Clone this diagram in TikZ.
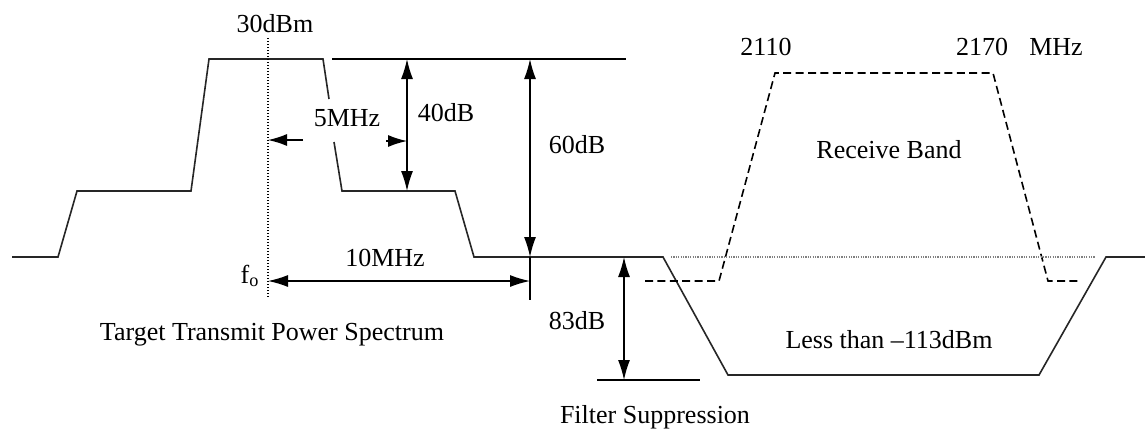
\documentclass[tikz,border=0pt]{standalone}
\usepackage{fontspec}
\setmainfont{Liberation Serif}
\usetikzlibrary{arrows.meta}
\begin{document}
\begin{tikzpicture}[x=0.5pt,y=-0.5pt,
  lbl/.style={font=\fontsize{13}{15}\selectfont, anchor=base, inner sep=0pt},
  curve/.style={draw=black!85, line width=0.8pt, line join=miter},
  dimarrow/.style={draw=black, line width=0.65pt, {Latex[length=10pt,width=6pt]}-{Latex[length=10pt,width=6pt]}},
  onearrow/.style={draw=black, line width=0.65pt, -{Latex[length=9.5pt,width=6pt]}},
  refline/.style={draw=black, line width=0.65pt},
  rxband/.style={draw=black, line width=0.8pt, dash pattern=on 4pt off 2.2pt},
  dotline/.style={draw=black, line width=0.6pt, dash pattern=on 0.7pt off 0.8pt},
  dotgray/.style={draw=black!50, line width=0.55pt, dash pattern=on 0.6pt off 0.6pt}]
\useasboundingbox (0,0) rectangle (1145,430);
\fill[white] (0,0) rectangle (1145,430);

% ---- coordinates
\coordinate (fotop) at (268,38);
\coordinate (fobot) at (268,297);
\coordinate (reftopL) at (332,59);
\coordinate (reftopR) at (626,59);
\coordinate (a40t) at (407,59);
\coordinate (a40b) at (407,191);
\coordinate (a60t) at (530,59);
\coordinate (a60b) at (530,257);
\coordinate (tickb) at (530,300);
\coordinate (a10l) at (268,281);
\coordinate (a10r) at (530,281);
\coordinate (a5ls) at (303,140);
\coordinate (a5le) at (268,140);
\coordinate (a5rs) at (386,141);
\coordinate (a5re) at (407,141);
\coordinate (a83t) at (624,257);
\coordinate (a83b) at (624,380);
\coordinate (botL) at (597,380);
\coordinate (botR) at (700,380);
\coordinate (dotL) at (671,257);
\coordinate (dotR) at (1095,257);

% ---- transmit spectrum and filter curve
\draw[curve] (12,257) -- (58,257) -- (77,191) -- (191,191) -- (209,59) -- (323,59) -- (329,99);
\draw[curve] (334,142) -- (342,191) -- (455,191) -- (474,257) -- (663,257)
  -- (728,375) -- (1039,375) -- (1106,257) -- (1145,257);

% ---- receive band (dashed)
\draw[rxband] (645,281) -- (719,281) -- (775,73) -- (993,73) -- (1048,281) -- (1078,281);

% ---- dotted lines
\draw[dotline] (fotop) -- (fobot);
\draw[dotgray] (dotL) -- (dotR);

% ---- reference lines and dimensions
\draw[refline] (reftopL) -- (reftopR);
\draw[dimarrow] (a40t) -- (a40b);
\draw[dimarrow] (a60t) -- (a60b);
\draw[refline] (a60b) -- (tickb);
\draw[dimarrow] (a10l) -- (a10r);
\draw[onearrow] (a5ls) -- (a5le);
\draw[onearrow] (a5rs) -- (a5re);
\draw[dimarrow] (a83t) -- (a83b);
\draw[refline] (botL) -- (botR);

% ---- labels
\node[lbl] (t30) at (275,32) {30dBm};
\node[lbl] (t5) at (347,126) {5MHz};
\node[lbl] (t40) at (446,121) {40dB};
\node[lbl] (t60) at (577,153) {60dB};
\node[lbl] (t10) at (385,266) {10MHz};
\node[lbl] (tfo) at (250,283) {f\textsubscript{o}};
\node[lbl] (t83) at (577,329) {83dB};
\node[lbl] (t2110) at (766,55) {2110};
\node[lbl] (t2170) at (982,55) {2170};
\node[lbl] (tmhz) at (1056,55) {MHz};
\node[lbl] (trx) at (889,158) {Receive Band};
\node[lbl] (tless) at (889,348) {Less than \textendash113dBm};
\node[lbl] (ttx) at (272,340) {Target Transmit Power Spectrum};
\node[lbl] (tfilt) at (655,423) {Filter Suppression};
\end{tikzpicture}
\end{document}
